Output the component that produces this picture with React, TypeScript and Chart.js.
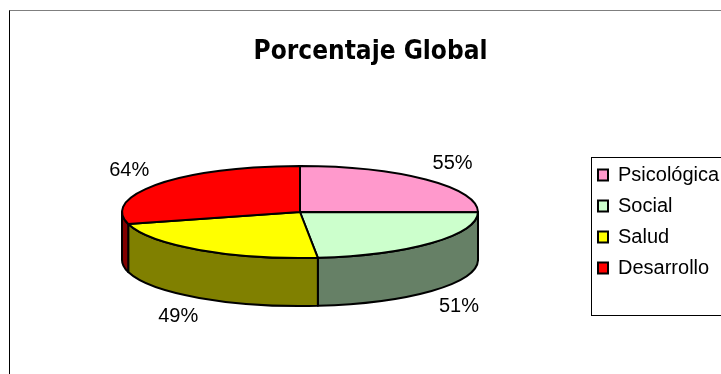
import React, { useEffect, useRef } from "react";
import { Chart, registerables } from "chart.js";

Chart.register(...registerables);

const titleText = "Porcentaje Global";
const categories = ["Psicológica", "Social", "Salud", "Desarrollo"];
const values = [55, 51, 49, 64];
const topColors = ["#FF99CC", "#CCFFCC", "#FFFF00", "#FF0000"];
const sideColors = ["#804C66", "#668066", "#808000", "#800000"];
const labelSuffix = "%";

// style constants
const RADIUS = 178;
const TILT = 46 / 178;
const DEPTH = 48;
const LABEL_DX = 37;
const LABEL_DY = 23;
const CANVAS_W = 800;
const CANVAS_H = 363;

const pie3d = {
  id: "pie3d",
  beforeDatasetsDraw(chart: any) {
    const ctx = chart.ctx as CanvasRenderingContext2D;
    const meta = chart.getDatasetMeta(0);
    ctx.save();
    ctx.lineWidth = 2;
    ctx.strokeStyle = "#000";
    ctx.lineJoin = "round";
    // side walls (front half only)
    meta.data.forEach((el: any, i: number) => {
      const { x, y, startAngle, endAngle, outerRadius } = el.getProps(
        ["x", "y", "startAngle", "endAngle", "outerRadius"],
        true
      );
      const rx = outerRadius;
      const ry = outerRadius * TILT;
      const a0 = Math.max(startAngle, 0);
      const a1 = Math.min(endAngle, Math.PI);
      if (a1 > a0) {
        ctx.beginPath();
        ctx.ellipse(x, y, rx, ry, 0, a0, a1);
        ctx.lineTo(x + rx * Math.cos(a1), y + ry * Math.sin(a1) + DEPTH);
        ctx.ellipse(x, y + DEPTH, rx, ry, 0, a1, a0, true);
        ctx.closePath();
        ctx.fillStyle = sideColors[i];
        ctx.fill();
        ctx.stroke();
      }
    });
    // top faces
    meta.data.forEach((el: any) => {
      const { x, y, startAngle, endAngle, outerRadius } = el.getProps(
        ["x", "y", "startAngle", "endAngle", "outerRadius"],
        true
      );
      const rx = outerRadius;
      const ry = outerRadius * TILT;
      ctx.beginPath();
      ctx.moveTo(x, y);
      ctx.ellipse(x, y, rx, ry, 0, startAngle, endAngle);
      ctx.closePath();
      ctx.fillStyle = el.options.backgroundColor;
      ctx.fill();
      ctx.stroke();
    });
    ctx.restore();
    return false;
  },
  afterDraw(chart: any) {
    const ctx = chart.ctx as CanvasRenderingContext2D;
    const meta = chart.getDatasetMeta(0);
    const data = chart.data.datasets[0].data as number[];
    ctx.save();
    ctx.font = '20px "Liberation Sans", Arial, sans-serif';
    ctx.fillStyle = "#000";
    ctx.textAlign = "center";
    ctx.textBaseline = "middle";
    meta.data.forEach((el: any, i: number) => {
      const { x, y, startAngle, endAngle, outerRadius } = el.getProps(
        ["x", "y", "startAngle", "endAngle", "outerRadius"],
        true
      );
      const rx = outerRadius;
      const ry = outerRadius * TILT;
      const mid = (startAngle + endAngle) / 2;
      const s = Math.sin(mid);
      const lx = x + (rx + LABEL_DX) * Math.cos(mid);
      const ly = y + (ry + LABEL_DY) * s + (s > 0 ? DEPTH : 0);
      ctx.fillText(data[i] + labelSuffix, lx, ly);
    });
    // legend frame
    const lg = chart.legend;
    ctx.lineWidth = 1;
    ctx.strokeStyle = "#000";
    ctx.strokeRect(Math.round(lg.left + 4) + 0.5, 146.5, 300, 158);
    ctx.restore();
  },
};

export default function App() {
  const canvasRef = useRef<HTMLCanvasElement | null>(null);

  useEffect(() => {
    if (!canvasRef.current) return;
    const chart = new Chart(canvasRef.current, {
      type: "pie",
      data: {
        labels: categories,
        datasets: [
          {
            data: values,
            backgroundColor: topColors,
            borderColor: "#000",
            borderWidth: 2,
            radius: RADIUS,
          } as any,
        ],
      },
      options: {
        responsive: false,
        animation: false,
        events: [],
        layout: { padding: { left: 3, right: 82, top: 0, bottom: 85 } },
        plugins: {
          title: {
            display: true,
            text: titleText,
            color: "#000",
            font: {
              family: "'DejaVu Sans Condensed', 'DejaVu Sans Mono', monospace",
              size: 26,
              weight: "bold",
              lineHeight: 1.2,
            },
            padding: { top: 25.4, bottom: 67.4 },
          },
          legend: {
            display: true,
            position: "right",
            align: "end",
            maxWidth: 141,
            labels: {
              color: "#000",
              boxWidth: 10,
              boxHeight: 11,
              padding: 11,
              font: { family: "'Liberation Sans', Arial, sans-serif", size: 20 },
            },
          },
          tooltip: { enabled: false },
        },
      } as any,
      plugins: [pie3d],
    });
    return () => chart.destroy();
  }, []);

  return (
    <div
      style={{
        position: "absolute",
        left: 9,
        top: 10,
        width: 712,
        height: 364,
        boxSizing: "border-box",
        borderLeft: "1px solid #000",
        borderTop: "1px solid #7f7f7f",
        overflow: "hidden",
        background: "#fff",
      }}
    >
      <canvas
        ref={canvasRef}
        width={CANVAS_W}
        height={CANVAS_H}
        style={{ display: "block", width: CANVAS_W, height: CANVAS_H }}
      />
    </div>
  );
}
